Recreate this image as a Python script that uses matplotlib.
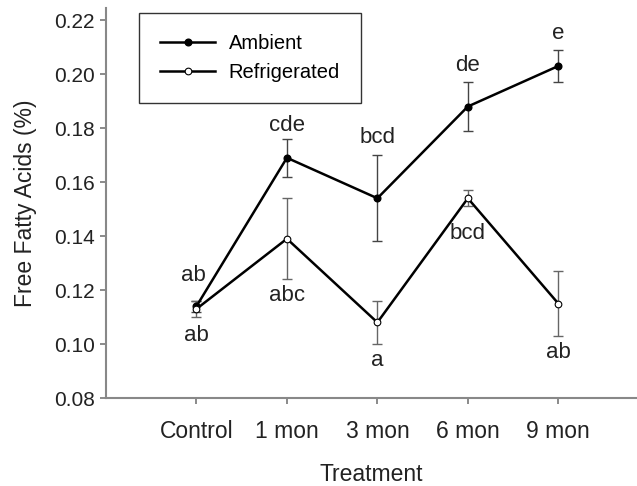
import matplotlib.pyplot as plt

treatments = ['Control', '1 mon', '3 mon', '6 mon', '9 mon']

ambient = [0.114, 0.169, 0.154, 0.188, 0.203]
ambient_err = [0.002, 0.007, 0.016, 0.009, 0.006]
ambient_letters = ['ab', 'cde', 'bcd', 'de', 'e']

refrig = [0.113, 0.139, 0.108, 0.154, 0.115]
refrig_err = [0.003, 0.015, 0.008, 0.003, 0.012]
refrig_letters = ['ab', 'abc', 'a', 'bcd', 'ab']

plt.rcParams['font.family'] = ['Liberation Sans', 'DejaVu Sans']
plt.rcParams['font.size'] = 15

fig = plt.figure(figsize=(6.37, 4.86), dpi=100)
ax = fig.add_axes([106 / 637, 88 / 486, 531 / 637, 390 / 486])

x = list(range(len(treatments)))

ax.errorbar(x, ambient, yerr=ambient_err, fmt='none', ecolor='#444444',
            elinewidth=1, capsize=3.6, capthick=1, zorder=2)
ax.errorbar(x, refrig, yerr=refrig_err, fmt='none', ecolor='#666666',
            elinewidth=1, capsize=3.6, capthick=1, zorder=2)
ax.plot(x, ambient, color='black', lw=1.8, marker='o', ms=4.8,
        mfc='black', mec='black', label='Ambient', zorder=3)
ax.plot(x, refrig, color='black', lw=1.8, marker='o', ms=4.8,
        mfc='white', mec='black', mew=0.8, label='Refrigerated', zorder=3)

# significance letters (offsets from the point, in data units)
amb_off = [0.0115, 0.012, 0.0226, 0.0152, 0.012]
amb_dx = [-0.03, 0, 0, 0, 0]
for xi, yi, t, d, dx in zip(x, ambient, ambient_letters, amb_off, amb_dx):
    ax.text(xi + dx, yi + d, t, ha='center', va='center', fontsize=16, color='#222222')
ref_off = [-0.010, -0.021, -0.014, -0.013, -0.018]
for xi, yi, t, d in zip(x, refrig, refrig_letters, ref_off):
    ax.text(xi, yi + d, t, ha='center', va='center', fontsize=16, color='#222222')

ax.set_xlim(-1, 4.87)
ax.set_ylim(0.08, 0.2245)
ax.set_xticks(x)
ax.set_xticklabels(treatments, fontsize=16.5)
ax.set_yticks([0.08, 0.10, 0.12, 0.14, 0.16, 0.18, 0.20, 0.22])
ax.set_yticklabels(['0.08', '0.10', '0.12', '0.14', '0.16', '0.18', '0.20', '0.22'], fontsize=15)

for side in ['top', 'right']:
    ax.spines[side].set_visible(False)
for side in ['left', 'bottom']:
    ax.spines[side].set_color('#888888')
    ax.spines[side].set_linewidth(1.5)
ax.tick_params(axis='both', length=4, width=1.2, color='#777777', labelcolor='#222222')
ax.tick_params(axis='y', pad=4)
ax.tick_params(axis='x', pad=11.5)

ax.set_xlabel('Treatment', labelpad=15, color='#222222', fontsize=16.5)
ax.set_ylabel('Free Fatty Acids (%)', labelpad=12, color='#222222', fontsize=16.5)

leg = ax.legend(loc='upper left', bbox_to_anchor=(0.062, 0.987), frameon=True,
                fancybox=False, edgecolor='black', fontsize=14.5, handlelength=2.75,
                handletextpad=0.65, borderpad=1.05, labelspacing=0.5, borderaxespad=0)
leg.get_frame().set_linewidth(1)

fig.savefig('out.png', dpi=100)
